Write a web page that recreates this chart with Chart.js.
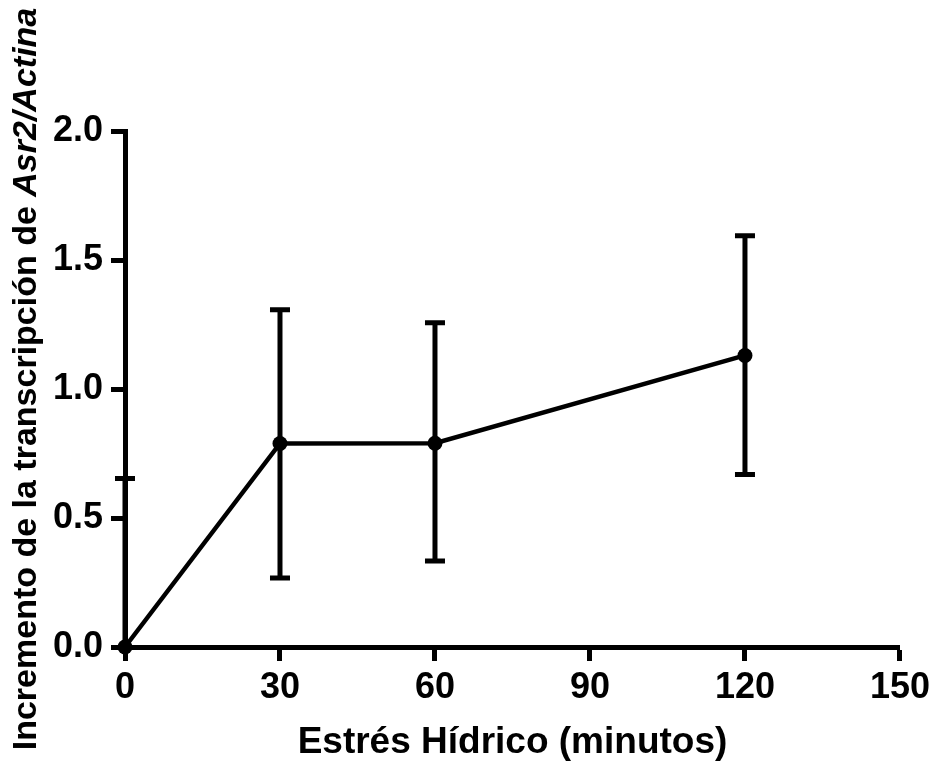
<!DOCTYPE html>
<html>
<head>
<meta charset="utf-8">
<script src="https://cdn.jsdelivr.net/npm/chart.js@4/dist/chart.umd.min.js"></script>
<style>
  html, body { margin: 0; padding: 0; background: #ffffff; }
  #wrap { width: 935px; height: 766px; position: relative; }
</style>
</head>
<body>
<div id="wrap"><canvas id="c" width="935" height="766"></canvas></div>
<script>
// ---- data ----
const minutes   = [0, 30, 60, 120];
const meanValue = [0, 0.789, 0.79, 1.13];
const errUpper  = [0.653, 1.307, 1.257, 1.594];
const errLower  = [0, 0.267, 0.333, 0.669];
const xTicks    = [0, 30, 60, 90, 120, 150];
const yTicks    = [0.0, 0.5, 1.0, 1.5, 2.0];
const xTitle    = 'Estrés Hídrico (minutos)';
const yTitlePlain  = 'Incremento de la transcripción de ';
const yTitleItalic = 'Asr2/Actina';

const FONT = '"Liberation Sans", Arial, Helvetica, sans-serif';

const errorBars = {
  id: 'errorBars',
  beforeDatasetsDraw(chart) {
    const ctx = chart.ctx, xs = chart.scales.x, ys = chart.scales.y;
    ctx.save();
    ctx.strokeStyle = '#000';
    ctx.lineWidth = 5;
    ctx.lineCap = 'butt';
    for (let i = 0; i < minutes.length; i++) {
      const px = xs.getPixelForValue(minutes[i]);
      const pt = ys.getPixelForValue(errUpper[i]);
      const pb = ys.getPixelForValue(errLower[i]);
      ctx.beginPath();
      ctx.moveTo(px, pt); ctx.lineTo(px, pb);
      ctx.moveTo(px - 10, pt); ctx.lineTo(px + 10, pt);
      if (errLower[i] !== meanValue[i]) {
        ctx.moveTo(px - 10, pb); ctx.lineTo(px + 10, pb);
      }
      ctx.stroke();
    }
    ctx.restore();
  }
};

const yTitlePlugin = {
  id: 'yTitle',
  afterDraw(chart) {
    const ctx = chart.ctx;
    ctx.save();
    const size = 34;
    const fPlain = 'bold ' + size + 'px ' + FONT;
    const fItal = 'italic bold ' + size + 'px ' + FONT;
    ctx.font = fPlain;
    const w1 = ctx.measureText(yTitlePlain).width;
    ctx.font = fItal;
    const w2 = ctx.measureText(yTitleItalic).width;
    const total = w1 + w2;
    const cy = 379, bx = 36;
    ctx.translate(bx, cy);
    ctx.rotate(-Math.PI / 2);
    ctx.fillStyle = '#000';
    ctx.textBaseline = 'alphabetic';
    ctx.textAlign = 'left';
    ctx.font = fPlain;
    ctx.fillText(yTitlePlain, -total / 2, 0);
    ctx.font = fItal;
    ctx.fillText(yTitleItalic, -total / 2 + w1, 0);
    ctx.restore();
  }
};

new Chart(document.getElementById('c'), {
  type: 'line',
  data: {
    datasets: [{
      data: minutes.map((m, i) => ({ x: m, y: meanValue[i] })),
      borderColor: '#000',
      backgroundColor: '#000',
      borderWidth: 4.5,
      pointRadius: 7.5,
      pointBackgroundColor: '#000',
      pointBorderColor: '#000',
      pointBorderWidth: 0,
      tension: 0,
      clip: false
    }]
  },
  options: {
    responsive: false,
    animation: false,
    devicePixelRatio: 1,
    layout: { padding: { top: 131, right: 35, left: 0, bottom: 0 } },
    plugins: { legend: { display: false }, tooltip: { enabled: false }, title: { display: false } },
    scales: {
      x: {
        type: 'linear',
        min: 0, max: 150,
        afterBuildTicks(s) { s.ticks = xTicks.map(v => ({ value: v })); },
        afterFit(s) { s.height = 119; },
        border: { display: true, color: '#000', width: 5 },
        grid: { drawOnChartArea: false, drawTicks: true, tickLength: 14, tickWidth: 5, tickColor: '#000' },
        ticks: { color: '#000', padding: 5, maxRotation: 0, font: { family: FONT, size: 36, weight: 'bold' },
                 callback: v => String(v) },
        title: { display: true, text: xTitle, color: '#000', padding: { top: 0, bottom: 1 },
                 font: { family: FONT, size: 37, weight: 'bold' } }
      },
      y: {
        type: 'linear',
        min: 0, max: 2,
        afterBuildTicks(s) { s.ticks = yTicks.map(v => ({ value: v })); },
        afterFit(s) { s.width = 125; },
        border: { display: true, color: '#000', width: 5 },
        grid: { drawOnChartArea: false, drawTicks: true, tickLength: 14, tickWidth: 5, tickColor: '#000' },
        ticks: { color: '#000', padding: 8, font: { family: FONT, size: 36, weight: 'bold' },
                 callback: v => v.toFixed(1) }
      }
    }
  },
  plugins: [errorBars, yTitlePlugin]
});
</script>
</body>
</html>
